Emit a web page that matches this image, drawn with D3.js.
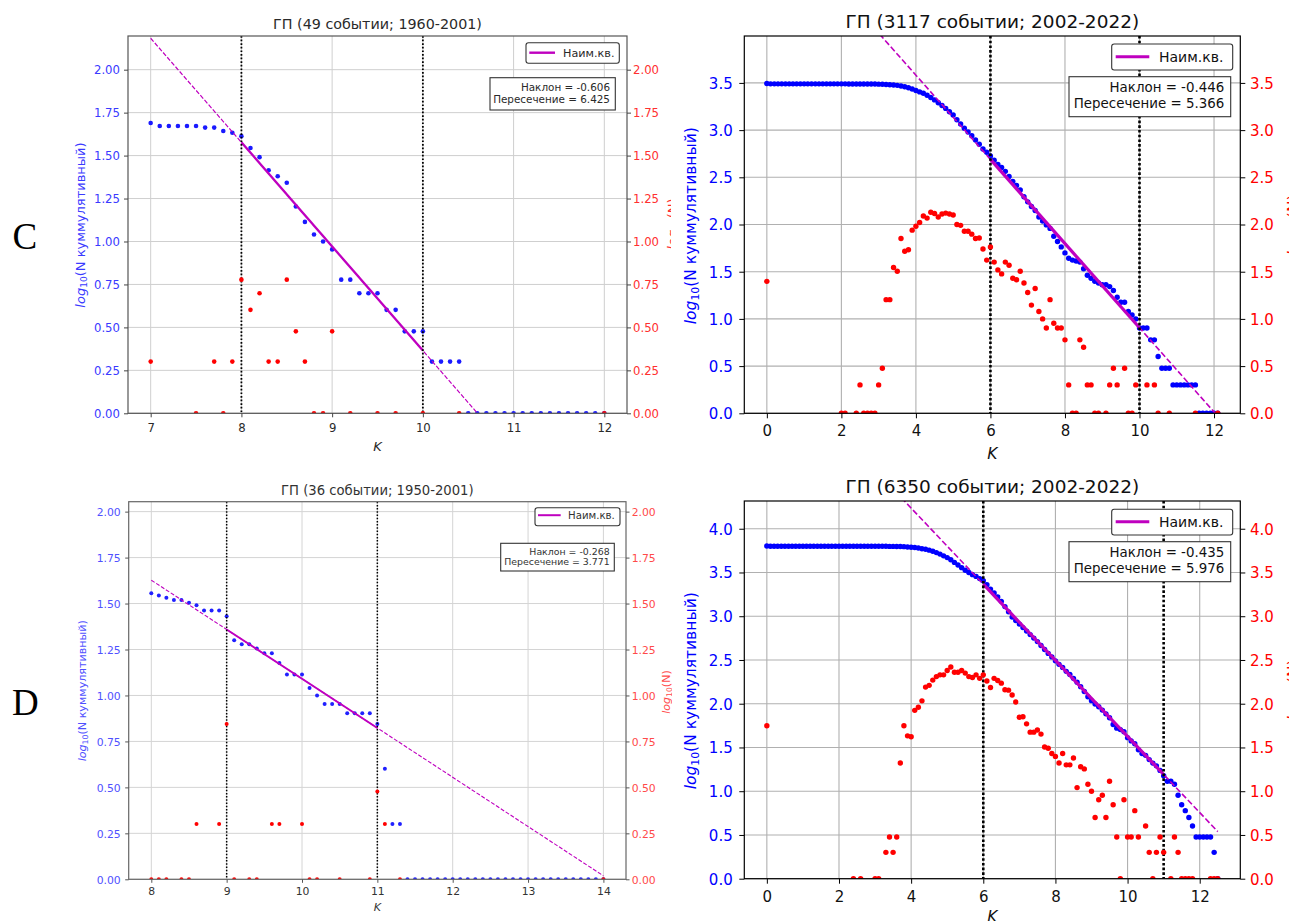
<!DOCTYPE html>
<html><head><meta charset="utf-8">
<script src="https://cdn.jsdelivr.net/npm/d3@7/dist/d3.min.js"></script>
<style>body{margin:0;background:#fff;} svg{display:block;}</style>
</head><body>
<script>
// ================= DATA =================
// Panel C (top-left): K from 7.0 step 0.1
const kStartC = 7.0;
const blueC = [1.690,1.672,1.672,1.672,1.672,1.672,1.663,1.663,1.643,1.633,
  1.613,1.544,1.491,1.415,1.380,1.342,1.204,1.114,1.041,1.000,
  0.954,0.778,0.778,0.699,0.699,0.699,0.602,0.602,0.477,0.477,
  0.477,0.301,0.301,0.301,0.301,0,0,0,0,0,
  0,0,0,0,0,0,0,0,0,0,0];
const redKC = [7.0,7.5,7.7,7.8,7.9,8.0,8.1,8.2,8.3,8.4,8.5,8.6,8.7,8.8,8.9,9.0,9.2,9.5,9.7,10.0,10.4,12.0];
const redC  = [0.301,0,0.301,0,0.301,0.778,0.602,0.699,0.301,0.301,0.778,0.477,0.301,0,0,0.477,0,0,0,0,0,0];

// Panel D (bottom-left): K from 8.0 step 0.1
const kStartD = 8.0;
const blueD = [1.556,1.544,1.531,1.519,1.519,1.505,1.491,1.462,1.462,1.462,
  1.431,1.301,1.279,1.279,1.255,1.230,1.230,1.176,1.114,1.114,
  1.114,1.041,1.000,0.954,0.954,0.954,0.903,0.903,0.903,0.903,
  0.845,0.602,0.301,0.301,0,0,0,0,0,0,
  0,0,0,0,0,0,0,0,0,0,
  0,0,0,0,0,0,0,0,0,0,
  0];
const redKD = [8.0,8.1,8.2,8.4,8.5,8.6,8.9,9.0,9.1,9.3,9.4,9.6,9.7,10.0,10.1,10.2,10.5,10.9,11.0,11.1,11.3,14.0];
const redD  = [0,0,0,0,0,0.301,0.301,0.845,0,0,0,0.301,0.301,0.301,0,0,0,0,0.477,0.301,0,0];

// Panel top-right: K from 0.0 step 0.1
const kStartTR = 0.0;
const blueTR = [3.494,
  3.490,3.490,3.490,3.490,3.490,3.490,3.490,3.490,3.490,
  3.490,3.490,3.490,3.490,3.490,3.490,3.490,3.490,3.490,3.490,
  3.490,3.490,3.489,3.489,3.489,3.489,3.488,3.488,3.488,3.488,
  3.487,3.486,3.484,3.481,3.478,3.474,3.468,3.459,3.448,3.436,
  3.420,3.405,3.390,3.370,3.345,3.320,3.290,3.260,3.230,3.195,
  3.160,3.110,3.065,3.020,2.980,2.940,2.895,2.850,2.800,2.765,
  2.725,2.680,2.635,2.605,2.563,2.508,2.456,2.414,2.366,2.294,
  2.240,2.190,2.149,2.079,2.037,1.996,1.959,1.875,1.820,1.763,
  1.699,1.643,1.623,1.613,1.602,1.531,1.462,1.431,1.398,1.380,
  1.362,1.362,1.342,1.301,1.230,1.176,1.176,1.079,1.041,1.000,
  0.903,0.903,0.903,0.778,0.778,0.602,0.477,0.477,0.477,0.301,
  0.301,0.301,0.301,0.301,0.301,0.301,0,0,0,0,
  0,0];
const redKTR = [0.0,2.0,2.1,2.4,2.5,2.6,2.7,2.8,2.9,
  3.0,3.1,3.2,3.3,3.4,3.5,3.6,3.7,3.8,3.9,
  4.0,4.1,4.2,4.3,4.4,4.5,4.6,4.7,4.8,4.9,
  5.0,5.1,5.2,5.3,5.4,5.5,5.6,5.7,5.8,5.9,
  6.0,6.1,6.2,6.3,6.4,6.5,6.6,6.7,6.8,6.9,
  7.0,7.1,7.2,7.3,7.4,7.5,7.6,7.7,7.8,7.9,
  8.0,8.1,8.2,8.3,8.4,8.5,8.6,8.7,8.8,8.9,
  9.1,9.2,9.3,9.4,9.6,9.7,9.8,9.9,10.2,10.4,10.5,10.8,11.5,12.1];
const redTR = [1.398,0,0,0,0.301,0,0,0,0,
  0.301,0.477,1.204,1.204,1.544,1.505,1.851,1.716,1.732,1.940,
  1.982,2.021,2.090,2.068,2.130,2.117,2.079,2.111,2.121,2.111,
  2.100,2.000,1.991,1.929,1.929,1.898,1.851,1.857,1.740,1.623,
  1.763,1.602,1.519,1.477,1.602,1.568,1.431,1.415,1.505,1.380,
  1.279,1.146,1.322,1.079,1.000,0.903,1.204,0.954,0.903,0.903,
  0.778,0.301,0,0,0.778,0.699,0.301,0.301,0,0,
  0,0.301,0.477,0.301,0.477,0,0,0.301,0.301,0.301,0,0,0,0];

// Panel bottom-right: K from 0.0 step 0.1
const kStartBR = 0.0;
const blueBR = [3.803,
  3.799,3.799,3.799,3.799,3.799,3.799,3.799,3.799,3.799,
  3.799,3.799,3.799,3.799,3.799,3.799,3.799,3.799,3.799,3.799,
  3.799,3.799,3.799,3.799,3.799,3.799,3.799,3.799,3.799,3.799,
  3.799,3.799,3.799,3.799,3.798,3.798,3.797,3.797,3.795,3.791,
  3.788,3.785,3.779,3.772,3.765,3.755,3.742,3.727,3.710,3.690,
  3.670,3.645,3.615,3.585,3.555,3.525,3.500,3.475,3.455,3.430,
  3.405,3.360,3.310,3.265,3.220,3.170,3.110,3.050,2.990,2.950,
  2.910,2.870,2.830,2.790,2.750,2.710,2.665,2.620,2.575,2.535,
  2.490,2.450,2.415,2.370,2.335,2.290,2.245,2.195,2.140,2.080,
  2.035,1.997,1.966,1.927,1.884,1.840,1.763,1.721,1.704,1.680,
  1.612,1.575,1.543,1.474,1.430,1.410,1.361,1.321,1.290,1.238,
  1.176,1.114,1.114,1.079,0.954,0.845,0.778,0.699,0.602,0.477,
  0.477,0.477,0.477,0.477,0.301,0];
const redKBR = [0.0,2.4,2.6,3.0,3.1,
  3.3,3.4,3.5,3.6,3.7,3.8,3.9,
  4.0,4.1,4.2,4.3,4.4,4.5,4.6,4.7,4.8,4.9,
  5.0,5.1,5.2,5.3,5.4,5.5,5.6,5.7,5.8,5.9,
  6.0,6.1,6.2,6.3,6.4,6.5,6.6,6.7,6.8,6.9,
  7.0,7.1,7.2,7.3,7.4,7.5,7.6,7.7,7.8,7.9,
  8.0,8.1,8.2,8.3,8.4,8.5,8.6,8.7,8.8,8.9,
  9.0,9.1,9.2,9.3,9.4,9.5,9.6,9.7,9.8,9.9,
  10.0,10.1,10.2,10.3,10.5,10.6,10.7,10.8,10.9,11.0,
  11.2,11.3,11.4,11.5,11.6,11.7,11.8,12.3,12.4,12.5];
const redBR = [1.748,0,0,0,0,
  0.301,0.477,0.301,0.477,1.322,1.748,1.633,
  1.623,1.924,1.959,2.033,2.190,2.210,2.270,2.310,2.330,2.330,
  2.380,2.420,2.360,2.360,2.380,2.350,2.310,2.300,2.330,2.290,
  2.330,2.260,2.185,2.290,2.265,2.235,2.160,2.155,2.100,2.020,
  1.845,1.851,1.770,1.675,1.675,1.699,1.653,1.505,1.491,1.431,
  1.398,1.322,1.431,1.301,1.301,1.380,1.041,1.279,1.255,1.079,
  1.000,0.699,0.903,0.954,0.699,1.114,0.845,0.477,0,0.903,
  0.477,0.477,0.778,0.477,0.602,0.301,0,0.301,0.477,0.301,
  0,0.477,0.301,0,0,0,0,0,0,0];

// Tick values
const xTicksC = [7,8,9,10,11,12];
const xTicksD = [8,9,10,11,12,13,14];
const xTicksR = [0,2,4,6,8,10,12];
const yTicksL = [0,0.25,0.5,0.75,1.0,1.25,1.5,1.75,2.0];
const yTicksTR = [0,0.5,1.0,1.5,2.0,2.5,3.0,3.5];
const yTicksBR = [0,0.5,1.0,1.5,2.0,2.5,3.0,3.5,4.0];

// Titles and fit results
const titles = ["ГП (49 событии; 1960-2001)","ГП (3117 событии; 2002-2022)","ГП (36 событии; 1950-2001)","ГП (6350 событии; 2002-2022)"];
const slopes = [-0.606,-0.446,-0.268,-0.435];
const intercepts = [6.425,5.366,3.771,5.976];
const fitRanges = [[8,10],[6,10],[9,11],[6,11]];
const dashRanges = [[7,12],[0,12.1],[8,14],[0,12.5]];
const vLines = [[8,10],[6,10],[9,11],[6,11]];
const legendText = "Наим.кв.";
const yLabelRest = "(N куммулятивный)";
const yLabel2Rest = "(N)";

// ================= DRAW =================
const FONT = "'DejaVu Sans', sans-serif";
const W = 1294, H = 921;
const svg = d3.select("body").append("svg").attr("width", W).attr("height", H);
svg.append("rect").attr("width", W).attr("height", H).attr("fill", "#fff");
const defs = svg.append("defs");

function series(start, vals){ return vals.map((v,i)=>[Math.round((start + i*0.1)*10)/10, v]); }
function pairs(ks, vs){ return ks.map((k,i)=>[k, vs[i]]); }

function logText(sel, fs, rest){
  sel.append("tspan").attr("font-style","italic").text("log");
  sel.append("tspan").attr("font-size", fs*0.7).attr("dy", fs*0.22).text("10");
  sel.append("tspan").attr("dy", -fs*0.22).text(rest);
}

const panels = [
 { id:"C", l:128, t:36, r:627, b:413.3, xDomain:[6.75,12.25], yMax:2.196,
   blue:series(kStartC, blueC), red:pairs(redKC, redC), xTicks:xTicksC, yTicks:yTicksL, yFmt:".2f",
   idx:0, titleY:29, titleFs:14.3, tickFs:11.7, xTickBase:432.5, yTickEnd:120, rTickStart:633,
   labFs:13, yLab:[84.5,225], xLab:[377.5,450.5], textColor:"#2a2a2a", frame:"#555", tickColor:"#444",
   grid:"#cfcfcf", gridW:1, tickLen:4,
   leg:{x:526,y:42.7,w:93.3,h:20.6,l1:529.3,l2:555,ly:52.7,tx:563,ty:56.8,fs:11.2,lw:2.4},
   ann:{x:490,y:77.7,w:125.3,h:32.3,tx:610,t1:91,t2:103,fs:10.4},
   red2:{x:677,y:224,fs:13,clip:671},
   dotR:2.3, solidW:2.3, dashW:1.2, dash:"4.4,1.9", vW:1.8, vDash:"1.7,1.9", blueCol:"#1a1aff", tickBlue:"#3a3aff", tickRed:"#ff3030"},
 { id:"TR", l:744.3, t:36, r:1240.3, b:413.3, xDomain:[-0.605,12.705], yMax:3.997,
   blue:series(kStartTR, blueTR), red:pairs(redKTR, redTR), xTicks:xTicksR, yTicks:yTicksTR, yFmt:".1f",
   idx:1, titleY:28, titleFs:18.5, tickFs:15, xTickBase:436.5, yTickEnd:732.7, rTickStart:1250,
   labFs:15.5, yLab:[695.5,225.7], xLab:[992.3,459], textColor:"#111", frame:"#000", tickColor:"#000",
   grid:"#b0b0b0", gridW:1.1, tickLen:5,
   leg:{x:1111.7,y:44,w:121,h:26,l1:1115.7,l2:1149.3,ly:56.7,tx:1159,ty:61.7,fs:14,lw:3},
   ann:{x:1069,y:76.7,w:161.7,h:40,tx:1224.3,t1:92,t2:108,fs:13.4},
   red2:{x:1299,y:225,fs:15.5,clip:1289},
   dotR:2.7, solidW:3.2, dashW:1.6, dash:"5.9,2.6", vW:2.6, vDash:"2.6,2.1", blueCol:"#0000ff", tickBlue:"#0000ff", tickRed:"#ff0000"},
 { id:"D", l:128.7, t:501.7, r:626, b:879.3, xDomain:[7.7,14.3], yMax:2.054,
   blue:series(kStartD, blueD), red:pairs(redKD, redD), xTicks:xTicksD, yTicks:yTicksL, yFmt:".2f",
   idx:2, titleY:495, titleFs:13.2, tickFs:10.8, xTickBase:895, yTickEnd:120.7, rTickStart:631.7,
   labFs:11.1, yLab:[86,690.8], xLab:[377.3,911], textColor:"#333", frame:"#666", tickColor:"#555",
   grid:"#d4d4d4", gridW:1, tickLen:3.5,
   leg:{x:535,y:507.7,w:85,h:18,l1:538,l2:560.7,ly:515.2,tx:568,ty:518.8,fs:10.2,lw:2},
   ann:{x:500.7,y:543.3,w:113.6,h:27.7,tx:609.7,t1:554.5,t2:565,fs:9.4},
   red2:{x:670,y:692,fs:11,clip:672},
   dotR:2.0, solidW:2.0, dashW:1.1, dash:"4,1.8", vW:1.5, vDash:"1.5,1.7", blueCol:"#2020ff", tickBlue:"#5050ff", tickRed:"#ff4a4a"},
 { id:"BR", l:744.3, t:501, r:1240.3, b:878.7, xDomain:[-0.625,13.125], yMax:4.317,
   blue:series(kStartBR, blueBR), red:pairs(redKBR, redBR), xTicks:xTicksR, yTicks:yTicksBR, yFmt:".1f",
   idx:3, titleY:493.3, titleFs:18.5, tickFs:15, xTickBase:901.7, yTickEnd:732.7, rTickStart:1250,
   labFs:15.5, yLab:[695.5,690.8], xLab:[992.3,921.5], textColor:"#111", frame:"#000", tickColor:"#000",
   grid:"#b0b0b0", gridW:1.1, tickLen:5,
   leg:{x:1111.7,y:509.3,w:121,h:25.7,l1:1115.7,l2:1149.3,ly:521.7,tx:1159,ty:526.7,fs:14,lw:3},
   ann:{x:1069,y:541.7,w:161.7,h:40,tx:1224.3,t1:557,t2:572.7,fs:13.4},
   red2:{x:1299,y:690,fs:15.5,clip:1289},
   dotR:2.7, solidW:3.2, dashW:1.6, dash:"5.9,2.6", vW:2.6, vDash:"2.6,2.1", blueCol:"#0000ff", tickBlue:"#0000ff", tickRed:"#ff0000"}
];

function drawPanel(p){
  const g = svg.append("g");
  const x = d3.scaleLinear().domain(p.xDomain).range([p.l, p.r]);
  const y = d3.scaleLinear().domain([0, p.yMax]).range([p.b, p.t]);
  const clipId = "clip"+p.id;
  defs.append("clipPath").attr("id", clipId).append("rect")
    .attr("x", p.l).attr("y", p.t).attr("width", p.r-p.l).attr("height", p.b-p.t);

  // grid
  g.append("g").selectAll("line").data(p.xTicks).join("line")
    .attr("x1", d=>x(d)).attr("x2", d=>x(d)).attr("y1", p.t).attr("y2", p.b)
    .attr("stroke", p.grid).attr("stroke-width", p.gridW);
  g.append("g").selectAll("line").data(p.yTicks).join("line")
    .attr("y1", d=>y(d)).attr("y2", d=>y(d)).attr("x1", p.l).attr("x2", p.r)
    .attr("stroke", p.grid).attr("stroke-width", p.gridW);

  const dl = g.append("g").attr("clip-path", `url(#${clipId})`);
  // blue cumulative points
  dl.append("g").selectAll("circle").data(p.blue).join("circle")
    .attr("cx", d=>x(d[0])).attr("cy", d=>y(d[1])).attr("r", p.dotR).attr("fill", p.blueCol);

  const slope = slopes[p.idx], icpt = intercepts[p.idx];
  const line = d3.line().x(d=>x(d[0])).y(d=>y(d[1]));
  const dr = dashRanges[p.idx], fr = fitRanges[p.idx];
  dl.append("path").datum(dr.map(k=>[k, icpt + slope*k])).attr("d", line)
    .attr("fill","none").attr("stroke","#bf00bf").attr("stroke-width", p.dashW).attr("stroke-dasharray", p.dash);
  dl.append("path").datum(fr.map(k=>[k, icpt + slope*k])).attr("d", line)
    .attr("fill","none").attr("stroke","#bf00bf").attr("stroke-width", p.solidW);

  // vertical dotted lines
  dl.append("g").selectAll("line").data(vLines[p.idx]).join("line")
    .attr("x1", d=>x(d)).attr("x2", d=>x(d)).attr("y1", p.t).attr("y2", p.b)
    .attr("stroke","#000").attr("stroke-width", p.vW).attr("stroke-dasharray", p.vDash);

  // red points
  dl.append("g").selectAll("circle").data(p.red).join("circle")
    .attr("cx", d=>x(d[0])).attr("cy", d=>y(d[1])).attr("r", p.dotR).attr("fill", "#ff0000");

  // frame
  g.append("rect").attr("x", p.l).attr("y", p.t).attr("width", p.r-p.l).attr("height", p.b-p.t)
    .attr("fill","none").attr("stroke", p.frame).attr("stroke-width", 1.2);

  // axes
  const ax = g.append("g").attr("transform", `translate(0,${p.b})`)
    .call(d3.axisBottom(x).tickValues(p.xTicks).tickSize(p.tickLen).tickFormat(d3.format("d")));
  ax.attr("font-size", null).attr("font-family", null);
  ax.select(".domain").remove();
  ax.selectAll(".tick line").attr("stroke", p.tickColor).attr("stroke-width", 1);
  ax.selectAll(".tick text").attr("y", p.xTickBase - p.b).attr("dy", null)
    .attr("font-size", p.tickFs).attr("font-family", FONT).attr("fill", p.textColor);

  const ay = g.append("g").attr("transform", `translate(${p.l},0)`)
    .call(d3.axisLeft(y).tickValues(p.yTicks).tickSize(p.tickLen).tickFormat(d3.format(p.yFmt)));
  ay.attr("font-size", null).attr("font-family", null);
  ay.select(".domain").remove();
  ay.selectAll(".tick line").attr("stroke", p.tickColor).attr("stroke-width", 1);
  ay.selectAll(".tick text").attr("x", p.yTickEnd - p.l).attr("dy", "0.36em")
    .attr("font-size", p.tickFs).attr("font-family", FONT).attr("fill", p.tickBlue);

  const ar = g.append("g").attr("transform", `translate(${p.r},0)`)
    .call(d3.axisRight(y).tickValues(p.yTicks).tickSize(p.tickLen).tickFormat(d3.format(p.yFmt)));
  ar.attr("font-size", null).attr("font-family", null);
  ar.select(".domain").remove();
  ar.selectAll(".tick line").attr("stroke", p.tickColor).attr("stroke-width", 1);
  ar.selectAll(".tick text").attr("x", p.rTickStart - p.r).attr("dy", "0.36em")
    .attr("font-size", p.tickFs).attr("font-family", FONT).attr("fill", p.tickRed);

  // title
  g.append("text").attr("x", (p.l+p.r)/2).attr("y", p.titleY).attr("text-anchor","middle")
    .attr("font-family", FONT).attr("font-size", p.titleFs).attr("fill", p.textColor).text(titles[p.idx]);
  // x label
  g.append("text").attr("x", p.xLab[0]).attr("y", p.xLab[1]).attr("text-anchor","middle")
    .attr("font-family", FONT).attr("font-size", p.labFs).attr("font-style","italic").attr("fill", p.textColor).text("K");
  // y label (left)
  const yl = g.append("text").attr("transform", `translate(${p.yLab[0]},${p.yLab[1]}) rotate(-90)`)
    .attr("text-anchor","middle").attr("font-family", FONT).attr("font-size", p.labFs).attr("fill", p.tickBlue);
  logText(yl, p.labFs, yLabelRest);

  // right y label, partly hidden by the neighbouring image edge (as in the source)
  const cid2 = "clipR"+p.id;
  defs.append("clipPath").attr("id", cid2).append("rect").attr("x", 0).attr("y", 0).attr("width", p.red2.clip).attr("height", H);
  const rg = g.append("g").attr("clip-path", `url(#${cid2})`);
  const rl = rg.append("text")
    .attr("transform", `translate(${p.red2.x},${p.red2.y}) rotate(-90)`)
    .attr("text-anchor","middle").attr("font-family", FONT).attr("font-size", p.red2.fs).attr("fill", p.tickRed);
  logText(rl, p.red2.fs, yLabel2Rest);

  // legend
  const L = p.leg;
  g.append("rect").attr("x", L.x).attr("y", L.y).attr("width", L.w).attr("height", L.h).attr("rx", 2.5)
    .attr("fill","#fff").attr("stroke","#333").attr("stroke-width", 1.1);
  g.append("line").attr("x1", L.l1).attr("x2", L.l2).attr("y1", L.ly).attr("y2", L.ly)
    .attr("stroke","#bf00bf").attr("stroke-width", L.lw);
  g.append("text").attr("x", L.tx).attr("y", L.ty).attr("font-family", FONT).attr("font-size", L.fs)
    .attr("fill", p.textColor).text(legendText);

  // annotation
  const A = p.ann;
  g.append("rect").attr("x", A.x).attr("y", A.y).attr("width", A.w).attr("height", A.h)
    .attr("fill","#fff").attr("stroke","#333").attr("stroke-width", 1.1);
  g.append("text").attr("x", A.tx).attr("y", A.t1).attr("text-anchor","end").attr("font-family", FONT)
    .attr("font-size", A.fs).attr("fill", p.textColor).text(`Наклон = ${slope.toFixed(3)}`);
  g.append("text").attr("x", A.tx).attr("y", A.t2).attr("text-anchor","end").attr("font-family", FONT)
    .attr("font-size", A.fs).attr("fill", p.textColor).text(`Пересечение = ${icpt.toFixed(3)}`);
}

panels.forEach(drawPanel);

// panel letters
svg.append("text").attr("x", 12.5).attr("y", 249).attr("font-family","'Liberation Serif', serif")
  .attr("font-size", 37).attr("fill","#000").text("C");
svg.append("text").attr("x", 12).attr("y", 715).attr("font-family","'Liberation Serif', serif")
  .attr("font-size", 37).attr("fill","#000").text("D");
</script>
</body></html>
